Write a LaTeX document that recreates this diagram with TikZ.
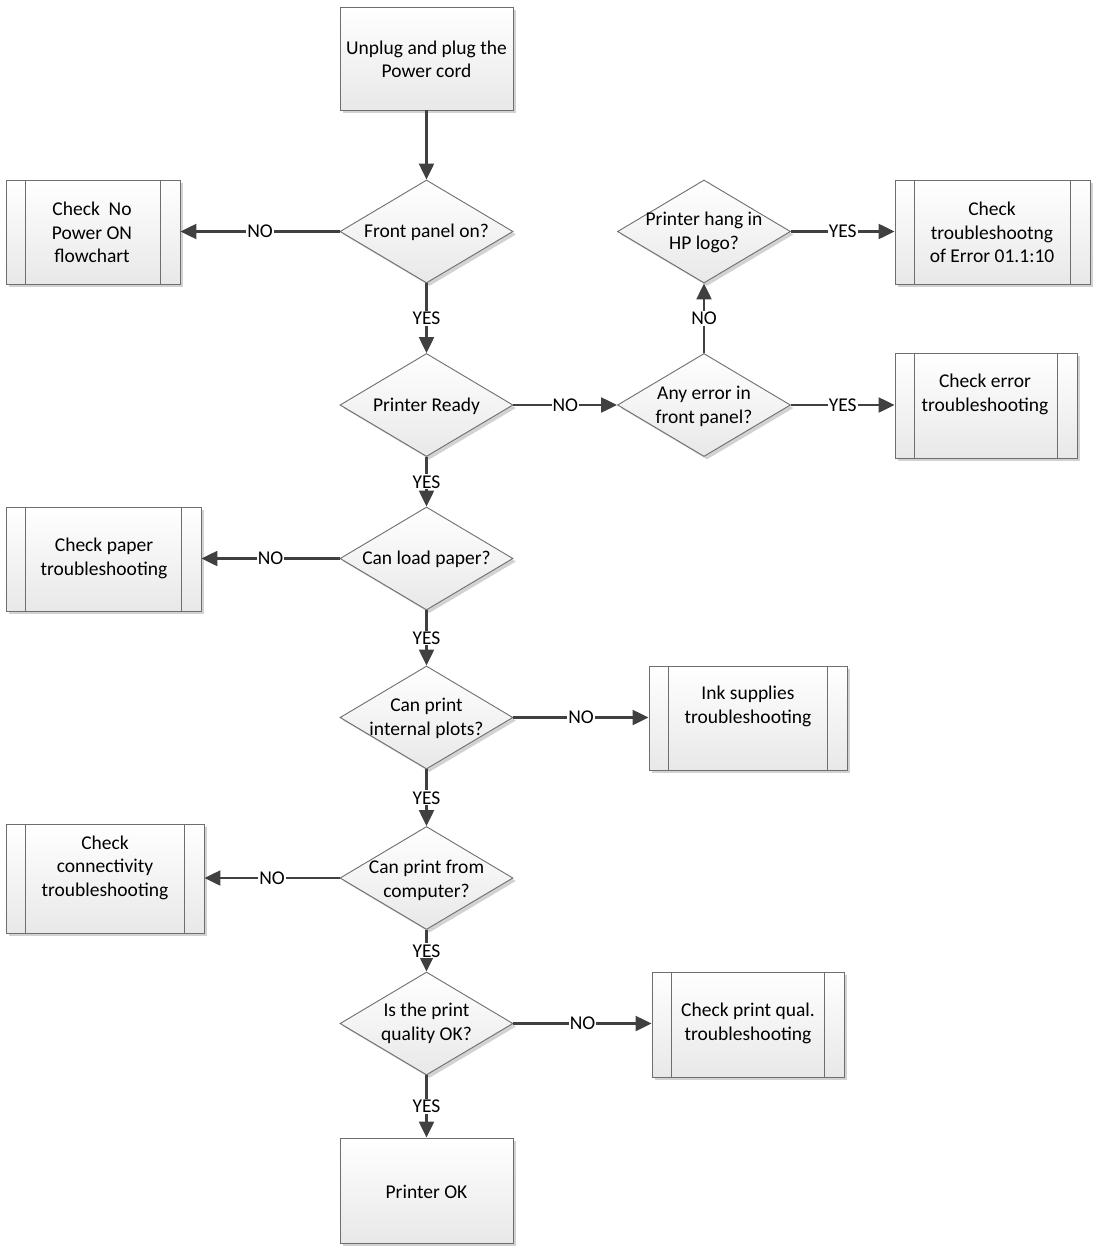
\documentclass[tikz,border=0pt]{standalone}
\usepackage{fontspec}
\setmainfont{Carlito}
\usetikzlibrary{shapes.geometric,arrows.meta,shadows}
\definecolor{edge}{HTML}{6E6E6E}
\definecolor{conn}{HTML}{404040}
\begin{document}
\begin{tikzpicture}[x=1pt,y=-1pt,
  every node/.style={font=\fontsize{19.5}{23.5}\selectfont},
  shp/.style={draw=edge,line width=0.9pt,top color=white,bottom color=black!9,
    drop shadow={shadow xshift=3pt,shadow yshift=-3pt,fill=black!22,opacity=0.8},inner sep=0pt},
  proc/.style={shp,rectangle},
  dec/.style={shp,diamond,minimum width=173pt,minimum height=103pt},
  txt/.style={align=center,inner sep=0pt,yshift=-1.5pt},
  conn/.style={draw=conn,line width=2.3pt,-{Triangle[length=16pt,width=15pt]}},
  lab/.style={fill=white,inner sep=1pt,text=black}]
\useasboundingbox (0,0) rectangle (1100,1252);
% boxes
\newcommand{\pbox}[5]{% name, x1,y1,x2,y2
  \node[proc,minimum width={#4-#2},minimum height={#5-#3}] (#1) at ({(#2+#4)/2},{(#3+#5)/2}) {};}
\newcommand{\sbar}[1]{%
  \draw[edge,line width=0.9pt] ([xshift=20pt]#1.north west) -- ([xshift=20pt]#1.south west);
  \draw[edge,line width=0.9pt] ([xshift=-20pt]#1.north east) -- ([xshift=-20pt]#1.south east);}
\pbox{start}{340}{7}{513}{110}
\pbox{ok}{340}{1138}{513}{1243}
\pbox{bnopow}{6}{180}{180}{284}
\pbox{berr}{895}{180}{1090}{284}
\pbox{bchk}{895}{353}{1077}{458}
\pbox{bpaper}{6}{507}{201}{611}
\pbox{bink}{649}{666}{847}{770}
\pbox{bconn}{6}{824}{204}{933}
\pbox{bqual}{652}{972}{844}{1077}
\sbar{bnopow}\sbar{berr}\sbar{bchk}\sbar{bpaper}\sbar{bink}\sbar{bconn}\sbar{bqual}
% diamonds
\node[dec] (front) at (426.5,231.5) {};
\node[dec] (ready) at (426.5,405) {};
\node[dec] (anyerr) at (704,405) {};
\node[dec] (hang) at (704,231.5) {};
\node[dec] (paper) at (426.5,558.5) {};
\node[dec] (internal) at (426.5,717.5) {};
\node[dec] (computer) at (426.5,878) {};
\node[dec] (quality) at (426.5,1023.5) {};
% texts
\node[txt] (tstart) at (426.5,58) {Unplug and plug the\\Power cord};
\node[txt] (tok) at (426.5,1190) {Printer OK};
\node[txt] (tnopow) at (92,231) {Check\ \ No\\Power ON\\flowchart};
\node[txt] (terr) at (992,231) {Check\\troubleshootng\\of Error 01.1:10};
\node[txt] (tchk) at (985,393) {Check error\\troubleshooting};
\node[txt] (tpaper) at (104,557) {Check paper\\troubleshooting};
\node[txt] (tink) at (748,705) {Ink supplies\\troubleshooting};
\node[txt] (tconn) at (105,866) {Check\\connectivity\\troubleshooting};
\node[txt] (tqual) at (748,1022) {Check print qual.\\troubleshooting};
\node[txt] (tfront) at (426.5,231) {Front panel on?};
\node[txt] (tready) at (426.5,405) {Printer Ready};
\node[txt] (tanyerr) at (704,405) {Any error in\\front panel?};
\node[txt] (thang) at (704,231) {Printer hang in\\HP logo?};
\node[txt] (tpaperq) at (426.5,558) {Can load paper?};
\node[txt] (tinternal) at (426.5,717) {Can print\\internal plots?};
\node[txt] (tcomputer) at (426.5,879) {Can print from\\computer?};
\node[txt] (tquality) at (426.5,1022) {Is the print\\quality OK?};
% connectors
\draw[conn] (start.south) -- (front.north);
\draw[conn] (front.west) -- node[lab]{NO} (front.west -| bnopow.east);
\draw[conn] (front.south) -- node[lab]{YES} (ready.north);
\draw[conn] (ready.east) -- node[lab]{NO} (anyerr.west);
\draw[conn] (anyerr.east) -- node[lab]{YES} (anyerr.east -| bchk.west);
\draw[conn] (anyerr.north) -- node[lab]{NO} (hang.south);
\draw[conn] (hang.east) -- node[lab]{YES} (hang.east -| berr.west);
\draw[conn] (ready.south) -- node[lab]{YES} (paper.north);
\draw[conn] (paper.west) -- node[lab]{NO} (paper.west -| bpaper.east);
\draw[conn] (paper.south) -- node[lab]{YES} (internal.north);
\draw[conn] (internal.east) -- node[lab]{NO} (internal.east -| bink.west);
\draw[conn] (internal.south) -- node[lab]{YES} (computer.north);
\draw[conn] (computer.west) -- node[lab]{NO} (computer.west -| bconn.east);
\draw[conn] (computer.south) -- node[lab]{YES} (quality.north);
\draw[conn] (quality.east) -- node[lab]{NO} (quality.east -| bqual.west);
\draw[conn] (quality.south) -- node[lab]{YES} (ok.north);
\end{tikzpicture}
\end{document}
